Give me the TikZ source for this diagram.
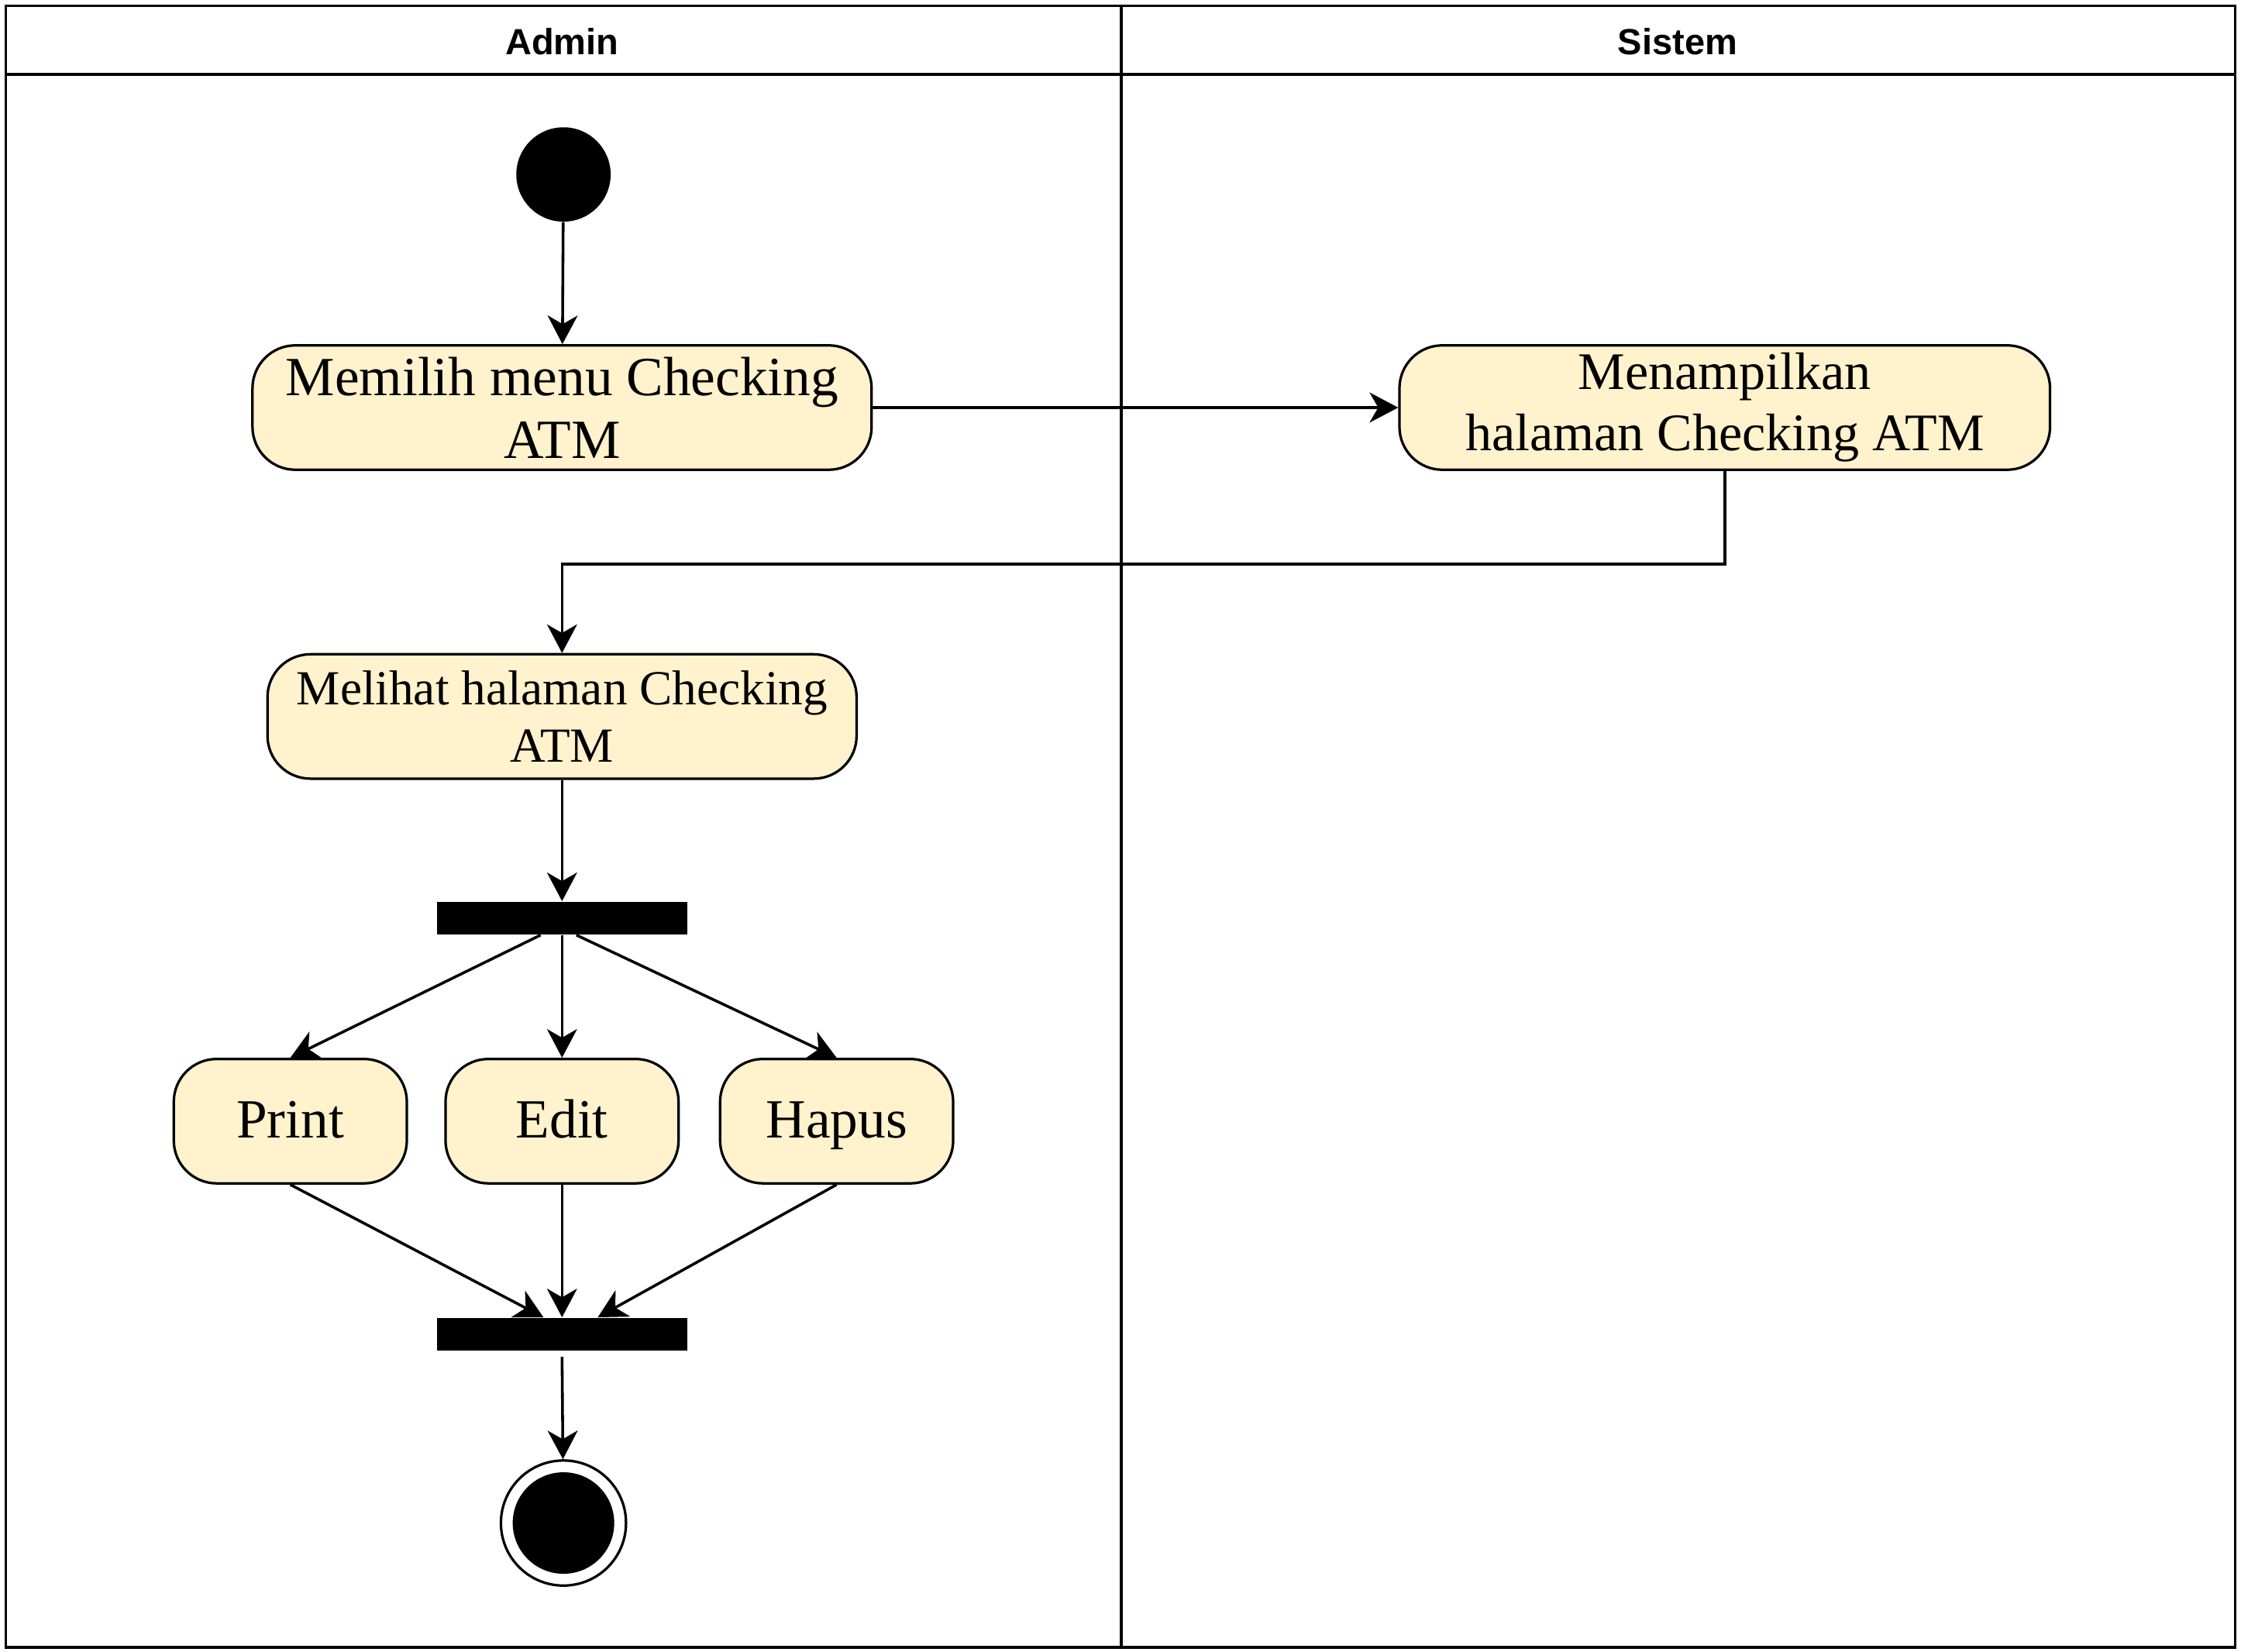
\documentclass[tikz,border=0pt]{standalone}
\usepackage{fontspec}
\setmainfont{Liberation Serif}
\setsansfont{Liberation Sans}
\usetikzlibrary{arrows.meta}
\definecolor{notecolor}{HTML}{FFF2CC}

\begin{document}
\begin{tikzpicture}[x=0.02cm, y=-0.02cm,
	lane/.style={line width=1pt},
	activity/.style={draw, line width=1pt, fill=notecolor, rounded corners=0.6cm, minimum height=1.74cm, align=center, inner sep=2pt, font=\fontsize{22}{25}\selectfont},
	choice/.style={activity, minimum width=3.26cm, text height=18.5pt, text depth=5pt},
	bar/.style={fill=black, minimum width=3.5cm, minimum height=0.46cm, inner sep=0},
	startstate/.style={circle, fill=black, minimum size=1.32cm, inner sep=0},
	endstate/.style={circle, draw, line width=1pt, minimum size=1.75cm, inner sep=0, path picture={\fill (path picture bounding box.center) circle (0.71cm);}},
	flow/.style={line width=1.1pt, -{Stealth[length=0.4cm, width=0.42cm, inset=0.12cm]}}]
	\useasboundingbox (0,0) rectangle (1567,1155);
	% swimlane
	\draw[lane] (4,4) rectangle (1563,1152);
	\draw[lane] (4,52) -- (1563,52);
	\draw[lane] (784,4) -- (784,1152);
	\node (admin) at (393,29) {\sffamily\bfseries\fontsize{14.5}{17}\selectfont Admin};
	\node (sistem) at (1173,29) {\sffamily\bfseries\fontsize{14.5}{17}\selectfont Sistem};
	% aktivitas
	\node [startstate] (start) at (394,122) {};
	\node [activity, minimum width=8.66cm] (memilih) at (393,285) {Memilih menu Checking\\ATM};
	\node [activity, minimum width=9.1cm, font=\fontsize{21}{24.5}\selectfont] (menampilkan) at (1206,285) {Menampilkan\\halaman Checking ATM};
	\node [activity, minimum width=8.24cm, font=\fontsize{19.5}{22.7}\selectfont] (melihat) at (393,501) {Melihat halaman Checking\\ATM};
	\node [bar] (fork) at (393,642) {};
	\node [choice] (print) at (203,784) {Print};
	\node [choice] (edit) at (393,784) {Edit};
	\node [choice] (hapus) at (585,784) {Hapus};
	\node [bar] (join) at (393,933) {};
	\node [endstate] (end) at (394,1065) {};
	% alur
	\draw[flow] (start) -- (memilih);
	\draw[flow] (memilih) -- (menampilkan);
	\draw[flow] (menampilkan.south) -- ++(0,65) -| (melihat.north);
	\draw[flow] (melihat) -- (fork);
	\draw[flow] ([xshift=-0.3cm]fork.south) -- (print.north);
	\draw[flow] (fork) -- (edit);
	\draw[flow] ([xshift=0.2cm]fork.south) -- (hapus.north);
	\draw[flow] (print.south) -- ([xshift=-0.26cm]join.north);
	\draw[flow] (edit) -- (join);
	\draw[flow] (hapus.south) -- ([xshift=0.5cm]join.north);
	\draw[flow] ([yshift=-0.08cm]join.south) -- (end);
\end{tikzpicture}
\end{document}
